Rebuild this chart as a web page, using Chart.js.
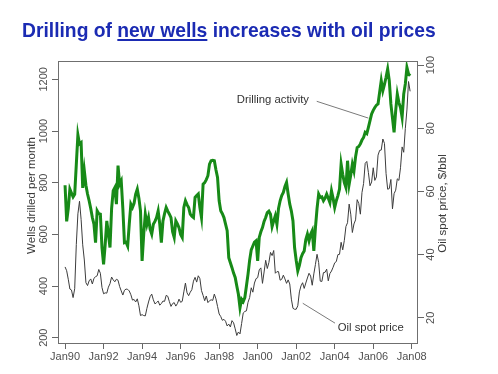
<!DOCTYPE html>
<html>
<head>
<meta charset="utf-8">
<script src="https://cdn.jsdelivr.net/npm/chart.js@4.4.1/dist/chart.umd.min.js"></script>
<style>
  html, body { margin: 0; padding: 0; background: #fff; }
  #wrap { position: relative; width: 498px; height: 374px; overflow: hidden; }
  #titulo {
    position: absolute; left: 22px; top: 21px; margin: 0;
    font: bold 19.3px "Liberation Sans", Arial, sans-serif; line-height: 20px;
    color: #1b2bb3; white-space: nowrap;
  }
  #titulo u { text-decoration-thickness: 1.5px; text-underline-offset: 2px; }
  canvas { position: absolute; left: 0; top: 0; }
</style>
</head>
<body>
<div id="wrap">
  <canvas id="grafico" width="498" height="374"></canvas>
  <div id="titulo">Drilling of <u>new wells</u> increases with oil prices</div>
</div>
<script>
// oil spot price, $/bbl, monthly from Jan 1990
var precioPetroleo = [
  36.1, 34.9, 32.2, 29.1, 28.8, 26.4, 29.2, 43.2, 52.9, 56.9, 51.1, 43.1,
  38.3, 31.1, 30.2, 31.7, 32.3, 30.7, 32.5, 33.0, 33.3, 35.3, 34.1, 29.6,
  27.6, 27.9, 27.8, 29.7, 30.8, 32.9, 32.0, 31.4, 32.2, 31.9, 29.9, 28.5,
  27.2, 28.7, 29.1, 29.0, 28.5, 27.3, 25.6, 25.8, 25.0, 26.0, 23.8, 20.7,
  21.0, 20.7, 20.6, 23.0, 25.0, 26.7, 27.5, 25.7, 24.4, 24.8, 25.3, 24.0,
  24.5, 25.3, 25.2, 27.1, 26.8, 25.1, 23.6, 24.5, 24.8, 23.7, 24.5, 25.9,
  24.9, 25.2, 28.2, 31.0, 27.9, 27.0, 28.1, 28.9, 31.6, 32.8, 31.3, 33.3,
  32.4, 28.6, 27.1, 25.4, 26.9, 24.8, 25.4, 25.7, 25.5, 27.5, 26.0, 23.6,
  21.2, 20.4, 19.2, 19.5, 18.9, 17.4, 18.0, 17.1, 19.1, 18.4, 16.5, 14.4,
  15.5, 14.9, 18.2, 21.5, 22.0, 22.2, 24.9, 26.4, 29.5, 28.1, 31.0, 32.4,
  32.7, 35.2, 35.8, 30.9, 34.5, 38.2, 35.6, 37.5, 40.7, 39.7, 41.3, 34.1,
  34.6, 34.6, 31.9, 32.2, 33.5, 32.3, 30.9, 32.0, 30.7, 25.9, 23.0, 22.7,
  22.7, 23.8, 28.2, 30.1, 31.1, 29.3, 31.0, 32.6, 34.1, 33.2, 30.3, 33.9,
  36.9, 40.1, 37.5, 31.6, 31.5, 34.3, 34.4, 35.4, 31.7, 34.0, 34.8, 36.0,
  37.4, 37.8, 40.0, 40.1, 43.9, 41.5, 44.5, 48.9, 50.1, 56.0, 52.8, 47.0,
  49.7, 51.0, 57.4, 56.2, 52.8, 59.7, 62.5, 68.9, 69.5, 66.0, 61.8, 63.0,
  67.5, 63.5, 64.6, 71.5, 73.0, 73.1, 76.6, 75.2, 65.7, 60.7, 60.9, 63.8,
  54.5, 59.3, 60.4, 64.0, 63.5, 67.5, 74.1, 72.4, 79.9, 85.8, 94.8, 91.7
];

// wells drilled per month, monthly from Jan 1990
var pozos = [
  790, 650, 700, 775, 760, 745, 755, 870, 985, 950, 955, 780,
  846, 790, 756, 730, 700, 665, 640, 568, 691, 680, 678, 549,
  484, 560, 652, 601, 549, 700, 769, 781, 717, 866, 794, 807,
  700, 568, 570, 555, 640, 717, 704, 720, 756, 775, 740, 691,
  497, 600, 678, 639, 665, 620, 601, 639, 650, 665, 691, 640,
  568, 652, 680, 704, 690, 678, 665, 610, 588, 652, 640, 626,
  600, 588, 704, 730, 715, 704, 678, 670, 665, 743, 750, 756,
  704, 665, 794, 800, 812, 827, 872, 885, 887, 885, 850, 820,
  730, 691, 680, 665, 640, 614, 510, 490, 471, 450, 433, 400,
  368, 316, 349, 340, 355, 400, 446, 500, 540, 555, 570, 575,
  497, 588, 610, 626, 650, 665, 684, 690, 678, 630, 652, 672,
  639, 700, 730, 750, 762, 785, 801, 756, 717, 690, 652, 549,
  500, 459, 480, 510, 525, 536, 580, 601, 575, 600, 614, 536,
  626, 700, 756, 743, 745, 730, 740, 756, 740, 723, 769, 740,
  704, 730, 750, 775, 872, 833, 800, 781, 885, 794, 830, 872,
  846, 900, 936, 940, 950, 965, 975, 995, 990, 1014, 1040, 1066,
  1080, 1091, 1100, 1105, 1150, 1195, 1156, 1180, 1208, 1240, 1195, 1105,
  1050, 995, 1079, 1143, 1110, 1091, 1053, 1143, 1182, 1246, 1221, 1214
];

// ticks (x in months since Jan 1990)
var mesesTicks = [0, 24, 48, 72, 96, 120, 144, 168, 192, 216];
var etiquetasX = ["Jan90", "Jan92", "Jan94", "Jan96", "Jan98", "Jan00", "Jan02", "Jan04", "Jan06", "Jan08"];
var ticksPozos = [200, 400, 600, 800, 1000, 1200];
var ticksPrecio = [20, 40, 60, 80, 100];

// annotation labels with leader lines (month, value)
var notaPozos = { texto: "Drilling activity", punto: [152, 1121], desde: [156.8, 1115], hasta: [189, 1050] };
var notaPrecio = { texto: "Oil spot price", punto: [169.9, 16.9], desde: [148.1, 24.6], hasta: [168.2, 18.3] };

var fuente = '"Liberation Sans", Arial, sans-serif';

var decorado = {
  id: "decorado",
  afterDatasetsDraw: function (chart) {
    var ctx = chart.ctx, a = chart.chartArea, sx = chart.scales.x, sy = chart.scales.y, sy1 = chart.scales.y1;
    ctx.save();
    // marco
    ctx.strokeStyle = "#6f6f6f";
    ctx.lineWidth = 1;
    ctx.strokeRect(a.left + 0.5, a.top + 0.5, a.right - a.left - 1, a.bottom - a.top - 1);

    // titulos de ejes
    ctx.fillStyle = "#3a3a3a";
    ctx.font = "11.5px " + fuente;
    ctx.textAlign = "center";
    ctx.textBaseline = "middle";
    ctx.save();
    ctx.translate(a.left - 26, (a.top + a.bottom) / 2 - 7);
    ctx.rotate(-Math.PI / 2);
    ctx.fillText("Wells drilled per month", 0, 0);
    ctx.restore();
    ctx.save();
    ctx.translate(a.right + 25, (a.top + a.bottom) / 2 + 1);
    ctx.rotate(-Math.PI / 2);
    ctx.fillText("Oil spot price, $/bbl", 0, 0);
    ctx.restore();

    // notas
    ctx.strokeStyle = "#7a7a7a";
    ctx.lineWidth = 1;
    ctx.beginPath();
    ctx.moveTo(sx.getPixelForValue(notaPozos.desde[0]), sy.getPixelForValue(notaPozos.desde[1]));
    ctx.lineTo(sx.getPixelForValue(notaPozos.hasta[0]), sy.getPixelForValue(notaPozos.hasta[1]));
    ctx.moveTo(sx.getPixelForValue(notaPrecio.desde[0]), sy1.getPixelForValue(notaPrecio.desde[1]));
    ctx.lineTo(sx.getPixelForValue(notaPrecio.hasta[0]), sy1.getPixelForValue(notaPrecio.hasta[1]));
    ctx.stroke();
    ctx.fillStyle = "#333";
    ctx.font = "11.3px " + fuente;
    ctx.textAlign = "right";
    ctx.fillText(notaPozos.texto, sx.getPixelForValue(notaPozos.punto[0]), sy.getPixelForValue(notaPozos.punto[1]));
    ctx.textAlign = "left";
    ctx.fillText(notaPrecio.texto, sx.getPixelForValue(notaPrecio.punto[0]), sy1.getPixelForValue(notaPrecio.punto[1]));
    ctx.restore();
  }
};

new Chart(document.getElementById("grafico"), {
  type: "line",
  data: {
    datasets: [{
      label: "Drilling activity",
      data: pozos.map(function (v, i) { return { x: i, y: v }; }),
      yAxisID: "y",
      borderColor: "#178a17",
      borderWidth: 3,
      pointRadius: 0,
      tension: 0,
      fill: false
    }, {
      label: "Oil spot price",
      data: precioPetroleo.map(function (v, i) { return { x: i, y: v }; }),
      yAxisID: "y1",
      borderColor: "#3c3c3c",
      borderWidth: 1,
      pointRadius: 0,
      tension: 0,
      fill: false
    }]
  },
  options: {
    responsive: false,
    animation: false,
    devicePixelRatio: 1,
    layout: { padding: { top: 61, left: 0, right: 0, bottom: 0 } },
    plugins: { legend: { display: false }, tooltip: { enabled: false } },
    scales: {
      x: {
        type: "linear",
        min: -4.4, max: 219.9,
        afterBuildTicks: function (s) { s.ticks = mesesTicks.map(function (v) { return { value: v }; }); },
        afterFit: function (s) { s.height = 30; },
        grid: { drawOnChartArea: false, tickLength: 5, color: "#666" },
        border: { display: false },
        ticks: {
          autoSkip: false, maxRotation: 0, padding: 1, color: "#505050",
          font: { family: fuente, size: 11 },
          callback: function (v) { return etiquetasX[mesesTicks.indexOf(v)]; }
        }
      },
      y: {
        position: "left",
        min: 175.6, max: 1271,
        afterBuildTicks: function (s) { s.ticks = ticksPozos.map(function (v) { return { value: v }; }); },
        afterFit: function (s) { s.width = 58; },
        grid: { drawOnChartArea: false, tickLength: 6, color: "#666" },
        border: { display: false },
        ticks: {
          minRotation: 90, maxRotation: 90, crossAlign: "center", padding: -4, color: "#505050",
          font: { family: fuente, size: 11 },
          callback: function (v) { return String(v); }
        }
      },
      y1: {
        position: "right",
        min: 11.7, max: 101.3,
        afterBuildTicks: function (s) { s.ticks = ticksPrecio.map(function (v) { return { value: v }; }); },
        afterFit: function (s) { s.width = 80; },
        grid: { drawOnChartArea: false, tickLength: 6, color: "#666" },
        border: { display: false },
        ticks: {
          minRotation: 90, maxRotation: 90, crossAlign: "center", padding: -2, color: "#505050",
          font: { family: fuente, size: 11 },
          callback: function (v) { return String(v); }
        }
      }
    }
  },
  plugins: [decorado]
});
</script>
</body>
</html>
